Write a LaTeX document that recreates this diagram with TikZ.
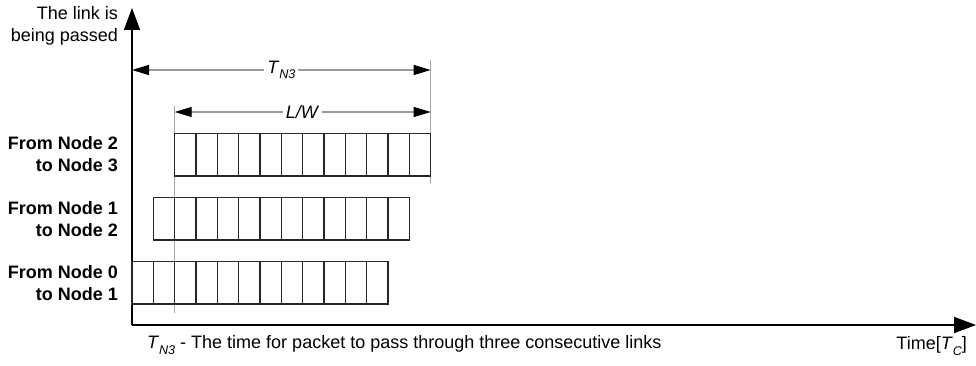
\documentclass[tikz,border=0pt]{standalone}
\usepackage{fontspec}
\setmainfont{Liberation Sans}
\usetikzlibrary{arrows.meta}

% italic T with a low italic index
\newcommand{\Tsub}[1]{\textit{T}\raisebox{-0.55ex}{\fontsize{6.3}{6.3}\selectfont\itshape #1}}

\tikzset{
  axis/.style={line width=0.9pt,-{Triangle[length=11pt,width=8pt]}},
  cell/.style={line width=0.7pt,draw=black!85},
  guide/.style={line width=0.5pt,draw=black!35},
  dim/.style={line width=0.6pt,draw=black!40,
    {Triangle[length=8.5pt,width=5pt,color=black]}-{Triangle[length=8.5pt,width=5pt,color=black]}},
  dimlbl/.style={fill=white,inner sep=1.5pt},
  rowlbl/.style={font=\fontsize{9}{11}\selectfont\bfseries,align=right,anchor=east}
}

\begin{document}
\begin{tikzpicture}[x=0.5pt,y=0.5pt,font=\fontsize{9}{11}\selectfont]
\useasboundingbox (0,0) rectangle (976,365);

% axes
\coordinate (o) at (132,40);
\coordinate (ytip) at (132,357);
\coordinate (xtip) at (976,40);
\draw[axis] (o) -- (ytip);
\draw[axis] (o) -- (xtip);
\node[align=right,anchor=east] (ylbl) at (125,339) {The link is\\being passed};
\node[anchor=east] (xlbl) at (974,19) {Time[\Tsub{C}]};

% guide lines
\coordinate (g1) at (174.67,52);
\coordinate (g2) at (174.67,259);
\coordinate (g3) at (430.67,182);
\coordinate (g4) at (430.67,305);
\draw[guide] (g1) -- (g2);
\draw[guide] (g3) -- (g4);

% packets on each link, one slot later per hop
\foreach \x/\y in {132/61, 153.33/125, 174.67/189}
  \foreach \c in {0,...,11}
    \draw[cell] (\x+\c*21.333,\y) rectangle ++(21.333,42.5);

\node[rowlbl] (r0) at (125,82) {From Node 0\\to Node 1};
\node[rowlbl] (r1) at (125,146) {From Node 1\\to Node 2};
\node[rowlbl] (r2) at (125,210.5) {From Node 2\\to Node 3};

% dimensions
\coordinate (t1) at (132,295);
\coordinate (t2) at (430.67,295);
\coordinate (l1) at (174.67,253);
\coordinate (l2) at (430.67,253);
\draw[dim] (t1) -- node[dimlbl] {\Tsub{N3}} (t2);
\draw[dim] (l1) -- node[dimlbl] {\textit{L/W}} (l2);

\node[anchor=west] (note) at (140,20) {\Tsub{N3} - The time for packet to pass through three consecutive links};
\end{tikzpicture}
\end{document}
